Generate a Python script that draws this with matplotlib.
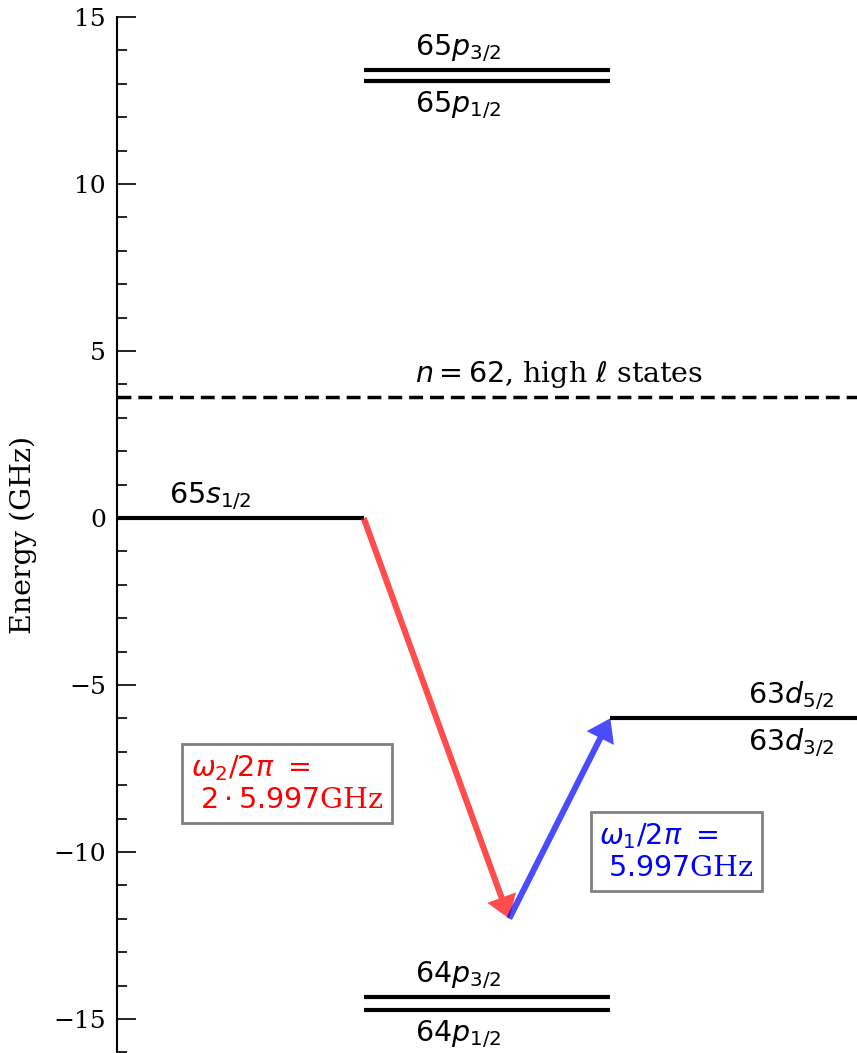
import matplotlib
matplotlib.use('Agg')
import matplotlib.pyplot as plt

plt.rcParams['font.family'] = ['DejaVu Serif', 'DejaVu Sans']
plt.rcParams['mathtext.fontset'] = 'dejavusans'

# energy levels (GHz): label, x start, x end, energy, label above?
level_labels = ['$65s_{1/2}$', '$65p_{3/2}$', '$65p_{1/2}$', '$64p_{3/2}$', '$64p_{1/2}$', '$63d_{5/2}$', '$63d_{3/2}$']
level_x0 = [0, 1, 1, 1, 1, 2, 2]
level_x1 = [1, 2, 2, 2, 2, 3, 3]
level_E = [0.0, 13.41, 13.08, -14.34, -14.73, -5.997, -5.997]
label_above = [True, True, False, True, False, True, False]
label_x = [0.21, 1.21, 1.21, 1.21, 1.21, 2.56, 2.56]

high_l_E = 3.62
f1 = 5.997  # GHz
virtual_x = 1.59

fs = 20.5

fig = plt.figure(figsize=(8.57, 10.53), dpi=100)
ax = fig.add_axes([117/857, 0.0, 1 - 117/857, 1 - 17/1053])

drawn = set()
for lab, x0, x1, E, above, lx in zip(level_labels, level_x0, level_x1, level_E, label_above, label_x):
    if (x0, E) not in drawn:
        ax.plot([x0, x1], [E, E], color='black', lw=3, solid_capstyle='butt')
        drawn.add((x0, E))
    if above:
        ax.text(lx, E + 0.18, lab, ha='left', va='bottom', fontsize=fs)
    else:
        ax.text(lx, E - 0.25, lab, ha='left', va='top', fontsize=fs)

ax.plot([0, 3], [high_l_E, high_l_E], color='black', lw=2.5, ls='--', dashes=(4, 2))
ax.text(1.21, high_l_E + 0.2, r'$n = 62$, high $\ell$ states', ha='left', va='bottom', fontsize=fs)

# two-photon transition arrows
ax.annotate('', xy=(virtual_x, -2 * f1), xytext=(1.0, 0.0),
            arrowprops=dict(arrowstyle='simple,head_length=0.8,head_width=1.1,tail_width=0.22',
                            color='red', alpha=0.7, lw=0, shrinkA=0, shrinkB=0, mutation_scale=20))
ax.annotate('', xy=(2.0, -f1), xytext=(virtual_x, -2 * f1),
            arrowprops=dict(arrowstyle='simple,head_length=0.8,head_width=1.1,tail_width=0.22',
                            color='blue', alpha=0.7, lw=0, shrinkA=0, shrinkB=0, mutation_scale=20))

box = dict(boxstyle='square,pad=0.3', fc='white', ec='gray', lw=2)
ax.text(0.30, -7.95, '$\\omega_2/2\\pi\\ =$\n $2\\cdot5.997$GHz', color='red', fontsize=fs,
        ha='left', va='center', bbox=box)
ax.text(1.955, -10.0, '$\\omega_1/2\\pi\\ =$\n $5.997$GHz', color='blue', fontsize=fs,
        ha='left', va='center', bbox=box)

ax.set_xlim(0, 3)
ax.set_ylim(-16.02, 15)
ax.set_yticks([-15, -10, -5, 0, 5, 10, 15])
ax.set_yticks(range(-16, 16), minor=True)
ax.tick_params(axis='y', which='major', direction='in', length=14, width=1.2, labelsize=18, pad=8)
ax.tick_params(axis='y', which='minor', direction='in', length=7, width=1.2)
ax.set_xticks([])
for s in ['top', 'right', 'bottom']:
    ax.spines[s].set_visible(False)
ax.spines['left'].set_linewidth(1.5)
ax.set_ylabel('Energy (GHz)', fontsize=20.5, labelpad=12)

fig.savefig('out.png', dpi=100)
